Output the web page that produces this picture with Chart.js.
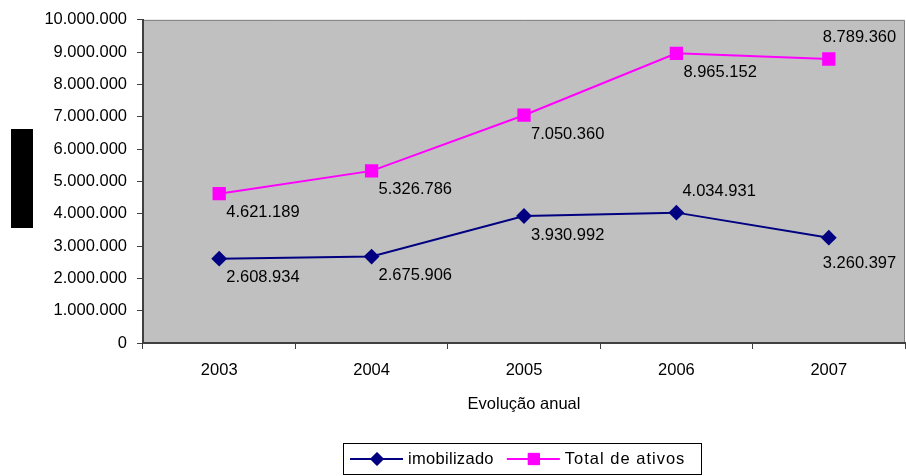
<!DOCTYPE html>
<html>
<head>
<meta charset="utf-8">
<script src="https://cdn.jsdelivr.net/npm/chart.js@4/dist/chart.umd.min.js"></script>
<style>
  html, body { margin: 0; padding: 0; background: #fff; }
  #wrap { width: 906px; height: 476px; position: relative; }
</style>
</head>
<body>
<div id="wrap"><canvas id="chart"></canvas></div>
<script>
// anos e valores (R$)
const years = ['2003', '2004', '2005', '2006', '2007'];
const imobilizado = [2608934, 2675906, 3930992, 4034931, 3260397];
const totalAtivos = [4621189, 5326786, 7050360, 8965152, 8789360];
// onde fica o rótulo de cada ponto
const imobilizadoLabelPos = ['below', 'below', 'below', 'above', 'belowLeft'];
const totalAtivosLabelPos = ['below', 'below', 'below', 'below', 'aboveLeft'];

const FONT = 'Arial, "Liberation Sans", sans-serif';
const SIZE = 16.5;
const fmt = (v) => String(Math.round(v)).replace(/\B(?=(\d{3})+(?!\d))/g, '.');

// deslocamento do texto em relação ao ponto
const LABEL_OFFSETS = {
  below: [7, 19],
  belowLeft: [-6, 26],
  above: [6, -21],
  aboveLeft: [-6, -22],
};

// fundo cinza da área de plotagem
const plotBackground = {
  id: 'plotBackground',
  beforeDraw(chart) {
    const { ctx, chartArea: a } = chart;
    ctx.save();
    ctx.fillStyle = '#c0c0c0';
    ctx.fillRect(a.left, a.top, a.right - a.left, a.bottom - a.top);
    ctx.strokeStyle = '#808080';
    ctx.lineWidth = 1;
    ctx.beginPath();
    ctx.moveTo(a.left, a.top + 0.5);
    ctx.lineTo(a.right - 0.5, a.top + 0.5);
    ctx.lineTo(a.right - 0.5, a.bottom);
    ctx.stroke();
    ctx.restore();
  },
};

// rótulos de valor ao lado dos pontos
const valueLabels = {
  id: 'valueLabels',
  afterDatasetsDraw(chart) {
    const { ctx } = chart;
    ctx.save();
    ctx.font = `${SIZE}px ${FONT}`;
    ctx.fillStyle = '#000';
    ctx.textAlign = 'left';
    ctx.textBaseline = 'middle';
    chart.data.datasets.forEach((ds, i) => {
      const meta = chart.getDatasetMeta(i);
      meta.data.forEach((pt, j) => {
        const [dx, dy] = LABEL_OFFSETS[ds.labelPos[j]];
        ctx.fillText(fmt(ds.data[j]), pt.x + dx, pt.y + dy);
      });
    });
    ctx.restore();
  },
};

// legenda com linha + marcador dentro de uma caixa, e o bloco preto à esquerda
const boxLegend = {
  id: 'boxLegend',
  afterDraw(chart) {
    const { ctx } = chart;
    ctx.save();
    ctx.fillStyle = '#000';
    ctx.fillRect(11, 129, 22, 99);

    const bx = 343; const by = 443; const bw = 358; const bh = 31;
    ctx.fillStyle = '#fff';
    ctx.fillRect(bx, by, bw, bh);
    ctx.strokeStyle = '#000';
    ctx.lineWidth = 1;
    ctx.strokeRect(bx + 0.5, by + 0.5, bw, bh);

    const cy = by + 16;
    let x = bx + 7;
    ctx.font = `${SIZE}px ${FONT}`;
    ctx.textBaseline = 'middle';
    ctx.textAlign = 'left';
    chart.data.datasets.forEach((ds) => {
      ctx.strokeStyle = ds.borderColor;
      ctx.lineWidth = 2;
      ctx.beginPath();
      ctx.moveTo(x, cy);
      ctx.lineTo(x + 53, cy);
      ctx.stroke();
      ctx.fillStyle = ds.pointBackgroundColor;
      ctx.strokeStyle = ds.borderColor;
      ctx.lineWidth = 1;
      Chart.helpers.drawPoint(ctx, {
        pointStyle: ds.pointStyle, radius: ds.pointRadius, borderWidth: 1, rotation: 0,
      }, x + 27, cy);
      ctx.fill();
      ctx.fillStyle = '#000';
      ctx.letterSpacing = ds.legendSpacing;
      ctx.fillText(ds.label, x + 58, cy);
      x += 58 + ctx.measureText(ds.label).width + 13;
    });
    ctx.restore();
  },
};

new Chart(document.getElementById('chart'), {
  type: 'line',
  data: {
    labels: years,
    datasets: [
      {
        label: 'imobilizado',
        data: imobilizado,
        labelPos: imobilizadoLabelPos,
        legendSpacing: '0.3px',
        borderColor: '#000080',
        backgroundColor: '#000080',
        pointBackgroundColor: '#000080',
        pointBorderColor: '#000080',
        pointStyle: 'rectRot',
        pointRadius: 6.5,
        borderWidth: 2,
        tension: 0,
      },
      {
        label: 'Total de ativos',
        data: totalAtivos,
        labelPos: totalAtivosLabelPos,
        legendSpacing: '1px',
        borderColor: '#ff00ff',
        backgroundColor: '#ff00ff',
        pointBackgroundColor: '#ff00ff',
        pointBorderColor: '#ff00ff',
        pointStyle: 'rect',
        pointRadius: 8,
        borderWidth: 2,
        tension: 0,
      },
    ],
  },
  options: {
    responsive: true,
    maintainAspectRatio: false,
    animation: false,
    layout: {
      autoPadding: false,
      padding: { top: 17, right: 1, bottom: 58, left: 0 },
    },
    plugins: {
      legend: { display: false },
      tooltip: { enabled: false },
    },
    scales: {
      x: {
        offset: true,
        grid: {
          offset: true,
          drawOnChartArea: false,
          tickLength: 6,
          color: '#404040',
        },
        border: { color: '#404040', width: 2 },
        ticks: {
          color: '#000',
          padding: 12,
          font: { family: FONT, size: SIZE },
        },
        title: {
          display: true,
          text: 'Evolução anual',
          color: '#000',
          padding: { top: 4, bottom: 4 },
          font: { family: FONT, size: SIZE },
        },
        afterFit(scale) {
          scale.height = 75;
          scale.paddingLeft = 0;
          scale.paddingRight = 0;
        },
      },
      y: {
        min: 0,
        max: 10000000,
        grid: {
          drawOnChartArea: false,
          tickLength: 6,
          color: '#404040',
        },
        border: { color: '#404040', width: 2 },
        ticks: {
          stepSize: 1000000,
          color: '#000',
          padding: 10,
          font: { family: FONT, size: SIZE },
          callback: (v) => fmt(v),
        },
        afterFit(scale) { scale.width = 143; },
      },
    },
  },
  plugins: [plotBackground, valueLabels, boxLegend],
});
</script>
</body>
</html>
